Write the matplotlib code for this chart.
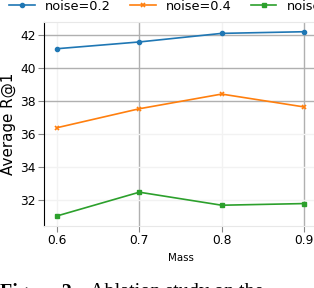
import matplotlib
matplotlib.use('Agg')
import matplotlib.pyplot as plt

mass = [0.6, 0.7, 0.8, 0.9]
noise_02 = [41.17, 41.58, 42.10, 42.20]
noise_04 = [36.38, 37.53, 38.42, 37.64]
noise_06 = [31.03, 32.47, 31.68, 31.78]
yticks = [32, 34, 36, 38, 40, 42]

fig = plt.figure(figsize=(3.14, 2.88), dpi=100)
ax = fig.add_axes([44/314, 62/288, 273/314, 204/288])

ax.plot(mass, noise_02, color='#1f77b4', marker='o', markersize=3, lw=1.2, label='noise=0.2')
ax.plot(mass, noise_04, color='#ff7f0e', marker='x', markersize=3, mew=1.2, lw=1.2, label='noise=0.4')
ax.plot(mass, noise_06, color='#2ca02c', marker='s', markersize=2.5, lw=1.2, label='noise=0.6')

ax.set_xlim(0.5842, 0.9158)
ax.set_ylim(30.42, 42.79)
ax.set_xticks(mass)
ax.set_yticks(yticks)
ax.set_axisbelow(True)
ax.grid(True, color='#b0b0b0', lw=1)
# the reference shows alternating strong/faint grid lines
for i, gl in enumerate(ax.get_xgridlines()):
    if i % 2 == 0:
        gl.set_color('#f2f2f2')
for i, gl in enumerate(ax.get_ygridlines()):
    if i < 3:
        gl.set_color('#f2f2f2')

for s in ['top', 'right', 'bottom']:
    ax.spines[s].set_color('#e8e8e8')
ax.spines['left'].set_color('black')
ax.tick_params(labelsize=8.8, length=4, pad=2, color='#888888')

ax.set_xlabel('Mass', fontsize=7.4, labelpad=4)
ax.set_ylabel('Average R@1', fontsize=10.9, labelpad=3)

fig.legend(loc='center left', bbox_to_anchor=(4/314, 1 - 6/288), ncol=3,
           frameon=False, fontsize=9.3, borderaxespad=0, columnspacing=1.45,
           handlelength=2.0, handletextpad=0.8)

fig.text(0, 1 - 283/288, 'Figure 2:', family='Liberation Serif', weight='bold',
         fontsize=14.5, va='top', ha='left')
fig.text(90/314, 1 - 283/288, 'Ablation study on the', family='Liberation Serif',
         fontsize=14.5, va='top', ha='left')

fig.savefig('out.png', dpi=100)
